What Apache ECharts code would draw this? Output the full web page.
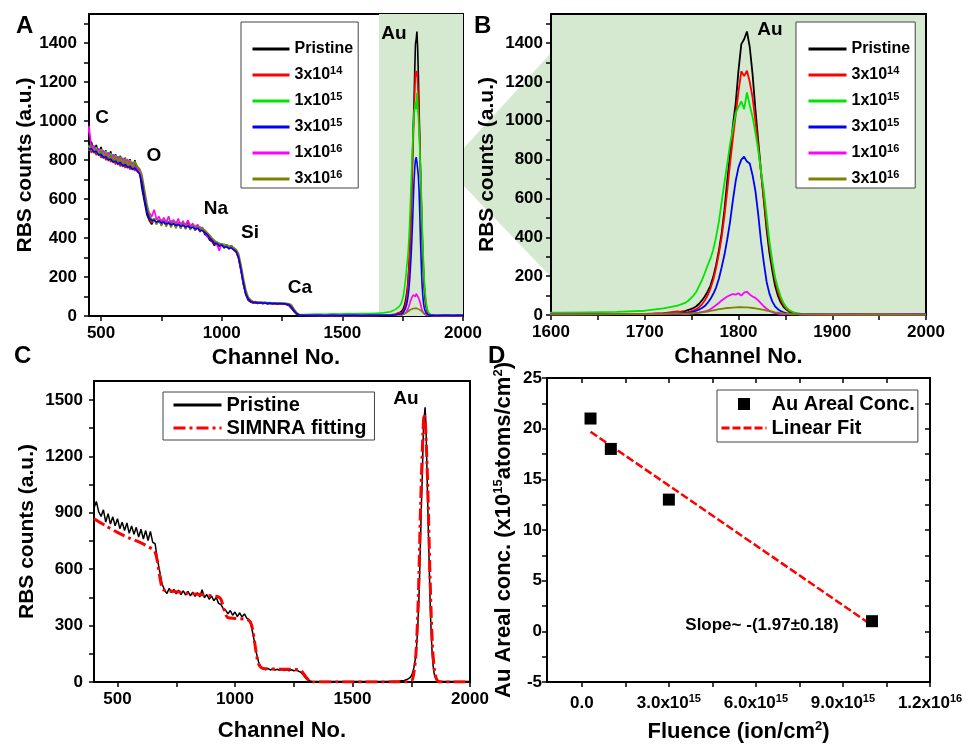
<!DOCTYPE html>
<html><head><meta charset="utf-8">
<script src="https://cdn.jsdelivr.net/npm/echarts@6/dist/echarts.min.js"></script>
<style>html,body{margin:0;padding:0;background:#fff}#c{width:971px;height:747px}</style>
</head><body><div id="c"></div>
<script>
// ---------------- DATA ----------------
const channels = [
 400,410,420,430,440,450,460,470,480,490,
 500,510,520,530,540,550,560,570,580,590,
 600,610,620,630,640,650,660,670,680,690,
 700,710,720,730,740,750,760,770,780,790,
 800,810,820,830,840,850,860,870,880,890,
 900,910,920,930,940,950,960,970,980,990,
 1000,1010,1020,1030,1040,1050,1060,1070,1080,1090,
 1100,1110,1120,1130,1140,1150,1160,1170,1180,1190,
 1200,1210,1220,1230,1240,1250,1260,1270,1280,1290,
 1300,1310,1320,1330,1340,
 1370,1400,1430,1460,1490,1520,1550,1580,1610,1640,1670,1700,1720,1735,
 1743,1746,1749,1752,1755,1758,1761,1764,1767,1770,
 1773,1776,1779,1782,1785,1788,1791,1794,1797,1800,
 1803,1806,1809,1812,1815,1818,1821,1824,1827,1830,
 1833,1836,1839,1842,1845,1848,1851,1854,1857,1860,
 1863,1866,1869,1872,
 1880,1900,1920,1940,1960,1980,2000
];
const pristine = [
 925,960,905,880,915,850,895,840,878,830,
 868,815,850,805,845,790,830,785,822,770,
 812,760,805,752,800,742,735,650,585,520,
 490,470,498,475,492,468,488,465,485,462,
 482,458,478,455,475,452,490,448,465,440,
 458,432,450,418,412,390,382,362,380,355,
 372,348,368,345,362,340,332,295,232,160,
 108,80,72,66,72,64,70,63,68,62,
 67,61,66,60,65,60,62,58,52,38,
 22,10,5,3,2,
 3,2,3,2,3,2,3,2,3,3,4,5,8,15,
 20,25,30,36,45,58,75,95,120,150,
 195,255,330,420,540,690,830,975,1090,1260,
 1395,1420,1460,1380,1240,1060,900,740,590,440,
 320,230,150,100,65,42,28,18,12,8,
 6,5,4,3,
 3,2,3,2,3,2,2
];
const f3e14 = [
 880,898,862,890,850,872,838,858,826,845,
 812,836,800,826,790,812,778,800,768,792,
 760,784,752,776,745,760,735,690,610,548,
 500,478,495,472,490,470,486,466,484,462,
 478,460,476,455,472,452,466,448,462,444,
 455,438,446,425,416,398,385,370,376,360,
 368,352,360,345,355,338,328,298,236,166,
 112,86,74,70,66,71,65,69,64,68,
 63,67,62,66,62,65,60,60,55,42,
 25,12,6,4,3,
 3,3,2,3,2,3,2,3,3,4,4,6,10,18,
 12,15,19,24,30,40,55,75,100,135,
 180,240,315,400,510,640,780,910,1030,1150,
 1255,1230,1258,1200,1120,1000,870,735,600,470,
 355,260,180,120,80,52,32,21,14,9,
 6,5,4,3,
 2,3,2,3,2,3,2
];
const f1e15 = [
 895,880,900,870,885,865,878,850,866,838,
 855,826,846,815,835,806,826,796,816,788,
 808,780,800,772,792,770,752,705,625,560,
 515,498,485,500,482,495,478,492,472,490,
 470,485,464,482,462,476,458,472,455,466,
 450,460,442,440,425,412,395,385,372,376,
 362,370,355,362,348,352,336,308,248,176,
 120,92,80,74,72,70,72,68,70,67,
 69,66,68,65,67,64,66,63,60,48,
 30,16,9,8,8,
 9,10,9,11,10,12,11,12,12,14,16,22,34,48,
 62,72,85,100,120,150,180,215,255,290,
 335,400,480,580,680,780,880,960,1040,1070,
 1100,1060,1146,1080,1020,940,850,740,640,510,
 380,280,195,140,95,62,40,26,18,12,
 9,7,6,5,
 4,4,3,4,3,3,3
];
const f3e15 = [
 885,878,884,866,870,856,858,842,845,826,
 830,812,818,800,806,790,795,780,788,770,
 778,762,768,752,760,745,728,682,602,538,
 502,490,492,482,488,478,482,472,478,468,
 474,465,470,460,466,456,462,452,456,446,
 450,440,438,428,418,402,388,375,372,362,
 364,352,356,346,350,340,330,300,238,168,
 114,88,75,70,70,67,68,66,67,65,
 66,64,65,63,64,63,62,61,57,44,
 27,13,6,4,3,
 3,3,2,3,2,3,3,2,3,3,4,4,6,10,
 8,10,13,17,22,28,36,46,62,82,
 108,140,185,245,310,390,480,590,690,760,
 800,815,790,780,720,640,520,380,270,170,
 110,70,45,30,20,14,10,8,6,5,
 4,4,3,3,
 3,2,3,3,2,3,3
];
const f1e16 = [
 930,890,905,880,905,975,860,875,845,860,
 832,850,818,840,805,830,795,820,785,812,
 776,805,768,790,762,758,740,695,618,555,
 530,510,545,495,510,482,505,478,512,470,
 495,468,500,462,488,458,492,455,476,450,
 470,445,455,432,405,405,392,380,366,335,
 372,355,365,350,360,342,334,302,242,172,
 118,90,78,72,74,69,71,67,70,66,
 68,65,67,64,66,63,64,62,58,46,
 28,14,8,6,5,
 4,3,4,3,4,3,4,3,4,3,4,5,6,8,
 5,6,7,8,10,12,15,18,22,30,
 40,50,62,75,85,95,102,108,105,112,
 100,115,120,105,95,88,75,60,45,32,
 22,15,10,7,5,4,4,3,3,3,
 3,2,2,2,
 2,3,2,3,2,3,2
];
const f3e16 = [
 900,875,895,860,880,850,866,835,855,822,
 845,808,836,795,828,785,820,775,812,765,
 805,758,798,750,790,765,755,722,650,578,
 520,488,500,470,495,462,490,458,485,455,
 482,450,478,448,476,445,470,442,465,440,
 460,436,452,440,428,415,400,388,376,368,
 370,358,366,352,360,350,342,320,265,195,
 135,98,82,74,72,70,69,70,68,69,
 67,68,66,67,65,66,65,64,63,55,
 36,18,8,5,4,
 3,3,3,2,3,3,2,3,3,3,4,4,6,8,
 6,7,8,9,11,12,14,16,18,21,
 24,27,30,32,34,36,37,38,39,40,
 40,39,39,38,36,34,32,29,26,23,
 20,17,14,12,10,8,7,6,5,4,
 4,3,3,3,
 3,2,2,3,2,2,2
];
const seriesNames = ['Pristine','3x10^14','1x10^15','3x10^15','1x10^16','3x10^16'];

const fitChannels = [400,450,500,550,600,650,660,670,680,690,700,750,800,850,900,930,940,950,960,970,1000,1050,1065,1075,1085,1095,1105,1120,1200,1270,1285,1300,1315,1325,1700,1750,1760,1770,1780,1790,1800,1805,1810,1820,1830,1840,1850,1860,1870,2000];
const fitCounts   = [868,830,795,765,740,705,690,640,560,500,488,480,472,465,458,452,440,400,360,342,338,332,320,280,200,120,85,72,68,66,55,30,8,0,0,5,40,150,450,950,1330,1425,1380,1050,560,200,50,10,0,0];
const fitName = 'SIMNRA fitting';

const fluence = [3e14, 1e15, 3e15, 1e16];
const auConc = [21, 18, 13, 1];
const linFitX = [3e14, 1e16];
const linFitY = [19.7, 0.6];
const concName = 'Au Areal Conc.';
const linFitName = 'Linear Fit';

const ticksA_xLabels = [500,1000,1500,2000];
const ticksA_x = [500,750,1000,1250,1500,1750,2000];
const ticksAB_yLabels = [0,200,400,600,800,1000,1200,1400];
const ticksAB_y = [0,100,200,300,400,500,600,700,800,900,1000,1100,1200,1300,1400,1500];
const ticksB_xLabels = [1600,1700,1800,1900,2000];
const ticksB_x = [1600,1650,1700,1750,1800,1850,1900,1950,2000];
const ticksC_xLabels = [500,1000,1500,2000];
const ticksC_x = [500,750,1000,1250,1500,1750,2000];
const ticksC_yLabels = [0,300,600,900,1200,1500];
const ticksC_y = [0,150,300,450,600,750,900,1050,1200,1350,1500];
const ticksD_xLabels = [0,3e15,6e15,9e15,1.2e16];
const ticksD_x = [0,1.5e15,3e15,4.5e15,6e15,7.5e15,9e15,1.05e16,1.2e16];
const ticksD_yLabels = [-5,0,5,10,15,20,25];
const ticksD_y = [-5,-2.5,0,2.5,5,7.5,10,12.5,15,17.5,20,22.5,25];

// ---------------- STYLE ----------------
const FONT = "'Liberation Sans', Arial, sans-serif";
const GREEN_BG = '#d4e9d0';
const colors = ['#000000','#ff0000','#00e400','#0000ff','#ff00ff','#808000'];
const spectra = [pristine, f3e14, f1e15, f3e15, f1e16, f3e16];
const pairs = (xs, ys) => xs.map((x, i) => [x, ys[i]]);
const plainNum = (v) => String(v);

function supText(s) {
  const m = s.match(/^(.*)\^(\d+)$/);
  return m ? '{n|' + m[1] + '}{s|' + m[2] + '}' : '{n|' + s + '}';
}
function richFor(size, supSize, lh) {
  return {
    n: {fontSize: size, fontWeight: 'bold', fontFamily: FONT, color: '#000', lineHeight: lh},
    s: {fontSize: supSize, fontWeight: 'bold', fontFamily: FONT, color: '#000', lineHeight: supSize, verticalAlign: 'top'}
  };
}

function xAxisDef(grid, min, max, labels, ticks, name, gap, extra) {
  return Object.assign({
    type: 'value', gridIndex: grid, min: min, max: max,
    name: name, nameLocation: 'middle', nameGap: gap,
    nameTextStyle: {fontSize: 22, fontWeight: 'bold', color: '#000', fontFamily: FONT},
    axisLine: {show: true, onZero: false, lineStyle: {color: '#000', width: 2}},
    axisTick: {show: true, length: 5, customValues: ticks, lineStyle: {color: '#000', width: 1.5}},
    axisLabel: {show: true, customValues: labels, margin: 9, formatter: plainNum, color: '#000', fontWeight: 'bold', fontSize: 17, fontFamily: FONT},
    splitLine: {show: false}
  }, extra || {});
}
function yAxisDef(grid, min, max, labels, ticks, name, gap, margin, extra) {
  return Object.assign({
    type: 'value', gridIndex: grid, min: min, max: max,
    name: name, nameLocation: 'middle', nameGap: gap,
    nameTextStyle: {fontSize: 21, fontWeight: 'bold', color: '#000', fontFamily: FONT},
    axisLine: {show: true, onZero: false, lineStyle: {color: '#000', width: 2}},
    axisTick: {show: true, length: 5, customValues: ticks, lineStyle: {color: '#000', width: 1.5}},
    axisLabel: {show: true, customValues: labels, margin: margin, formatter: plainNum, color: '#000', fontWeight: 'bold', fontSize: 17, fontFamily: FONT},
    splitLine: {show: false}
  }, extra || {});
}

function fluenceLabel(v) {
  if (Math.abs(v) < 1) return '{n|0.0}';
  const e = Math.floor(Math.log10(v) + 1e-9);
  const m = (v / Math.pow(10, e)).toFixed(1);
  return '{n|' + m + 'x10}{s|' + e + '}';
}

const chart = echarts.init(document.getElementById('c'));

const series = [];
// Panel A (blue drawn last, on top)
[0,1,2,4,5,3].forEach(function (k, idx) {
  const s = {
    type: 'line', name: seriesNames[k], xAxisIndex: 0, yAxisIndex: 0,
    data: pairs(channels, spectra[k]), symbol: 'none', showSymbol: false,
    lineStyle: {color: colors[k], width: 1.6}, itemStyle: {color: colors[k]},
    clip: true, z: 3
  };
  if (idx === 0) {
    s.markArea = {silent: true, itemStyle: {color: GREEN_BG}, z: 1,
      data: [[{xAxis: 1652}, {xAxis: 2000}]]};
  }
  series.push(s);
});
// Panel B
[0,1,2,3,4,5].forEach(function (k) {
  series.push({
    type: 'line', name: seriesNames[k], xAxisIndex: 1, yAxisIndex: 1,
    data: pairs(channels, spectra[k]), symbol: 'none', showSymbol: false,
    lineStyle: {color: colors[k], width: 1.8}, itemStyle: {color: colors[k]}, clip: true
  });
});
// Panel C
series.push({
  type: 'line', name: seriesNames[0], xAxisIndex: 2, yAxisIndex: 2,
  data: pairs(channels, pristine), symbol: 'none', showSymbol: false,
  lineStyle: {color: '#000', width: 1.5}, itemStyle: {color: '#000'}, clip: true
});
series.push({
  type: 'line', name: fitName, xAxisIndex: 2, yAxisIndex: 2,
  data: pairs(fitChannels, fitCounts), symbol: 'none', showSymbol: false, smooth: 0.3,
  lineStyle: {color: '#ff0000', width: 3, type: [12, 4, 3, 4]}, itemStyle: {color: '#ff0000'}, clip: true
});
// Panel D
series.push({
  type: 'line', name: linFitName, xAxisIndex: 3, yAxisIndex: 3,
  data: pairs(linFitX, linFitY), symbol: 'none', showSymbol: false,
  lineStyle: {color: '#ff0000', width: 2.5, type: [8, 3]}, itemStyle: {color: '#ff0000'}
});
series.push({
  type: 'scatter', name: concName, xAxisIndex: 3, yAxisIndex: 3,
  data: pairs(fluence, auConc), symbol: 'rect', symbolSize: 12,
  itemStyle: {color: '#000', opacity: 1}, z: 4
});

const SQUARE = 'path://M0,0L10,0L10,10L0,10Z';
function legendDef(items, left, top, padding, itemWidth, itemHeight, fontSize, lh, gap) {
  return {
    orient: 'vertical', left: left, top: top, padding: padding,
    itemWidth: itemWidth, itemHeight: itemHeight, itemGap: gap, selectedMode: false,
    backgroundColor: '#ffffff', borderColor: '#444', borderWidth: 1, borderRadius: 0,
    data: items, lineStyle: {width: 3}, symbolKeepAspect: true,
    formatter: function (name) { return supText(name); },
    textStyle: {rich: richFor(fontSize, 11, lh)}
  };
}
const lineItem = (n) => ({name: n, itemStyle: {opacity: 0}});

const option = {
  animation: false,
  backgroundColor: '#ffffff',
  textStyle: {fontFamily: FONT},
  grid: [
    {left: 89, top: 14, width: 374, height: 302, show: true, borderColor: '#000', borderWidth: 2, backgroundColor: 'transparent'},
    {left: 551, top: 14, width: 375, height: 301, show: true, borderColor: '#000', borderWidth: 2, backgroundColor: GREEN_BG},
    {left: 94, top: 381, width: 376, height: 301, show: true, borderColor: '#000', borderWidth: 2, backgroundColor: 'transparent'},
    {left: 547, top: 378, width: 383, height: 304, show: true, borderColor: '#000', borderWidth: 2, backgroundColor: 'transparent'}
  ],
  xAxis: [
    xAxisDef(0, 450, 2000, ticksA_xLabels, ticksA_x, 'Channel No.', 31),
    xAxisDef(1, 1600, 2000, ticksB_xLabels, ticksB_x, 'Channel No.', 31),
    xAxisDef(2, 400, 2000, ticksC_xLabels, ticksC_x, 'Channel No.', 38),
    xAxisDef(3, -1.2e15, 1.2e16, ticksD_xLabels, ticksD_x, '{n|Fluence (ion/cm}{s|2}{n|)}', 38, {
      nameTextStyle: {rich: richFor(22, 13, 24)},
      axisLabel: {show: true, customValues: ticksD_xLabels, margin: 11, formatter: fluenceLabel, rich: richFor(17, 11, 20)}
    }),
    xAxisDef(3, -1.2e15, 1.2e16, [], ticksD_x, '', 0, {
      position: 'top',
      axisTick: {show: true, inside: true, length: 5, customValues: ticksD_x, lineStyle: {color: '#000', width: 1.5}},
      axisLabel: {show: false}
    })
  ],
  yAxis: [
    yAxisDef(0, 0, 1550, ticksAB_yLabels, ticksAB_y, 'RBS counts (a.u.)', 53, 12),
    yAxisDef(1, 0, 1550, ticksAB_yLabels, ticksAB_y, 'RBS counts (a.u.)', 53, 8),
    yAxisDef(2, 0, 1600, ticksC_yLabels, ticksC_y, 'RBS counts (a.u.)', 56, 11),
    yAxisDef(3, -5, 25, ticksD_yLabels, ticksD_y, '{n|Au Areal conc. (x10}{s|15}{n|atoms/cm}{s|2}{n|)}', 31, 5, {
      nameTextStyle: {rich: richFor(22, 13, 24)}
    }),
    yAxisDef(3, -5, 25, [], ticksD_y, '', 0, 5, {
      position: 'right',
      axisTick: {show: true, inside: true, length: 5, customValues: ticksD_y, lineStyle: {color: '#000', width: 1.5}},
      axisLabel: {show: false}
    })
  ],
  legend: [
    legendDef(seriesNames.map(lineItem), 241, 22, [19, 5, 1, 10], 37, 14, 16, 20, 8),
    legendDef(seriesNames.map(lineItem), 796, 22, [19, 5, 1, 11], 38, 14, 16, 20, 8),
    legendDef([lineItem(seriesNames[0]), lineItem(fitName)], 163, 392, [3, 8, 2, 9], 48, 14, 20, 22, 3),
    legendDef([{name: concName, icon: SQUARE, itemStyle: {color: '#000', opacity: 1}}, lineItem(linFitName)], 717, 390, [4, 3, 4, 3], 45, 12, 20, 22, 4)
  ],
  series: series,
  graphic: [
    {type: 'polygon', z: -1, silent: true, shape: {points: [[463,149],[551,53],[551,277],[463,185]]}, style: {fill: GREEN_BG}}
  ]
};

const labelsText = [
  {t: 'A', x: 16, y: 14, s: 24, a: 'left'},
  {t: 'B', x: 474, y: 14, s: 24, a: 'left'},
  {t: 'C', x: 14, y: 344, s: 24, a: 'left'},
  {t: 'D', x: 488, y: 344, s: 24, a: 'left'},
  {t: 'C', x: 102, y: 118, s: 19, a: 'center'},
  {t: 'O', x: 154, y: 156, s: 19, a: 'center'},
  {t: 'Na', x: 216, y: 209, s: 19, a: 'center'},
  {t: 'Si', x: 250, y: 233, s: 19, a: 'center'},
  {t: 'Ca', x: 300, y: 288, s: 19, a: 'center'},
  {t: 'Au', x: 394, y: 34, s: 19, a: 'center'},
  {t: 'Au', x: 770, y: 30, s: 19, a: 'center'},
  {t: 'Au', x: 406, y: 399, s: 19, a: 'center'},
  {t: 'Slope~ -(1.97\u00b10.18)', x: 762, y: 625, s: 17, a: 'center'}
];
labelsText.forEach(function (L) {
  option.graphic.push({
    type: 'text', z: 100, silent: true,
    x: L.x, y: L.y,
    style: {text: L.t, fill: '#000', font: 'bold ' + L.s + 'px ' + FONT,
      textAlign: L.a, textVerticalAlign: L.a === 'left' ? 'top' : 'middle'}
  });
});

chart.setOption(option);
</script>
</body></html>
